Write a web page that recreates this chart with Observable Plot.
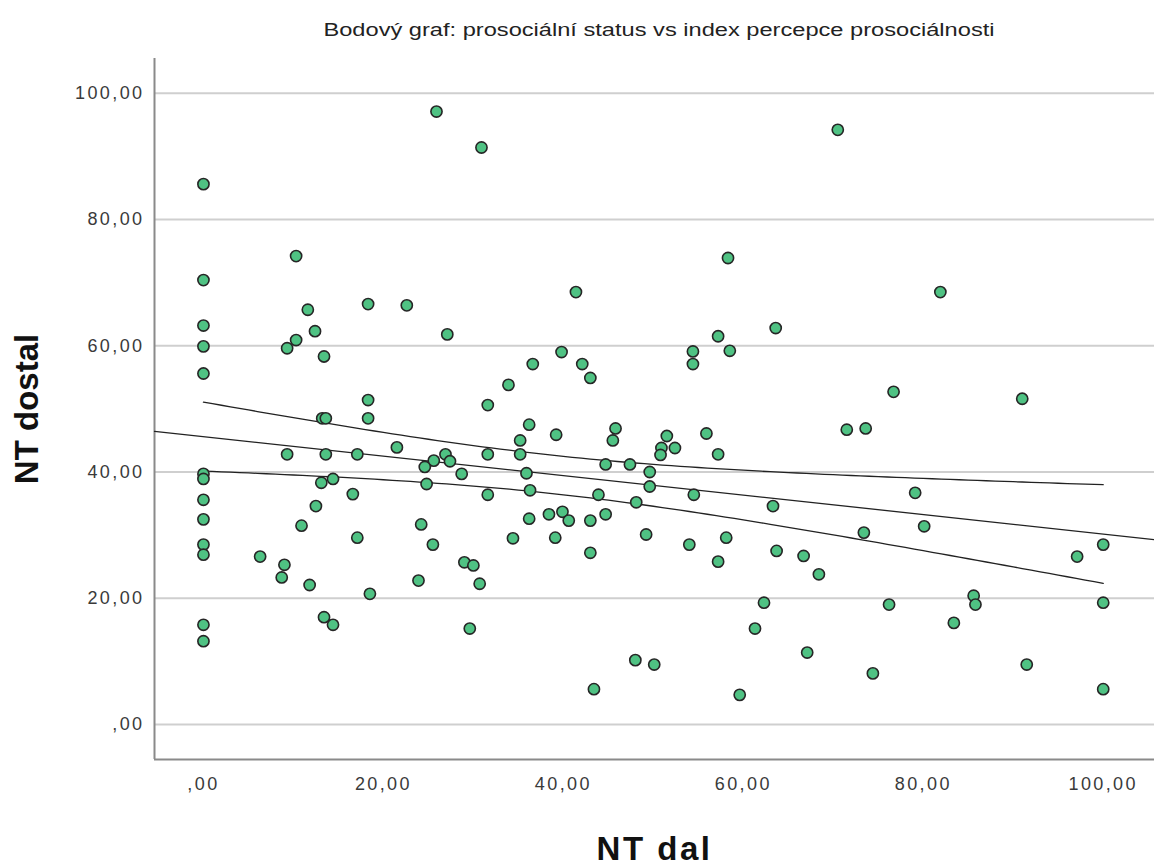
<!DOCTYPE html>
<html>
<head>
<meta charset="utf-8">
<script src="https://cdn.jsdelivr.net/npm/d3@7"></script>
<script src="https://cdn.jsdelivr.net/npm/@observablehq/plot@0.6"></script>
<style>
  html, body { margin: 0; padding: 0; background: #fff; }
  #wrap { position: relative; width: 1154px; height: 866px; }
  #chart svg { display: block; }
  #title { position: absolute; top: 19px; left: 659px; white-space: nowrap;
    font-family: 'Liberation Sans', Arial, sans-serif; font-size: 17.5px; line-height: 22px; color: #222;
    transform: translateX(-50%) scaleX(1.35); transform-origin: 50% 50%; }
  g[aria-label="y-axis tick label"] text, g[aria-label="x-axis tick label"] text { letter-spacing: 2.4px; }
  g[aria-label="y-axis label"] text, g[aria-label="x-axis label"] text { font-weight: bold; font-size: 33px; fill: #111; }
  g[aria-label="x-axis label"] text { letter-spacing: 2.5px; }
</style>
</head>
<body>
<div id="wrap">
  <div id="chart"></div>
  <div id="title"></div>
</div>
<script>
// NT dal (x) and NT dostal (y)
const ntDal = [
  25.9, 30.9, 0, 10.3, 0, 18.3, 22.6, 58.3, 41.4, 70.5, 81.9, 11.6, 0, 0, 12.4, 10.3, 9.3, 13.4, 27.1, 0,
  18.3, 18.3, 13.2, 13.6, 31.6, 21.5, 9.3, 13.6, 17.1, 26.9, 25.6, 27.4, 24.6, 28.7, 31.6, 0, 0, 13.1, 14.4, 24.8,
  31.6, 16.6, 0, 12.5, 0, 10.9, 24.2, 17.1, 25.5, 0, 0, 6.3, 9.0, 29.0, 8.7, 11.8, 18.5, 23.9, 30.0, 30.7,
  0, 0, 13.4, 14.4, 29.6, 63.6, 57.2, 58.5, 54.4, 54.4, 39.8, 36.6, 42.1, 43.0, 33.9, 36.2, 45.8, 45.5, 39.2, 35.2,
  51.5, 55.9, 50.9, 52.4, 50.8, 57.2, 35.2, 44.7, 47.4, 49.6, 35.9, 49.6, 36.3, 43.9, 54.5, 48.1, 63.3, 36.2, 38.4, 39.9,
  40.6, 43.0, 44.7, 34.4, 39.1, 49.2, 54.0, 58.1, 43.0, 63.7, 66.7, 57.2, 68.4, 62.3, 61.3, 67.1, 48.0, 50.1, 43.4, 59.6,
  76.7, 91.0, 71.5, 73.6, 79.1, 73.4, 80.1, 100, 97.1, 76.2, 85.6, 85.8, 83.4, 100, 74.4, 91.5, 100
];
const ntDostal = [
  97.1, 91.4, 85.6, 74.2, 70.4, 66.6, 66.4, 73.9, 68.5, 94.2, 68.5, 65.7, 63.2, 59.9, 62.3, 60.9, 59.6, 58.3, 61.8, 55.6,
  51.4, 48.5, 48.5, 48.5, 50.6, 43.9, 42.8, 42.8, 42.8, 42.8, 41.8, 41.7, 40.8, 39.7, 42.8, 39.7, 38.9, 38.3, 38.9, 38.1,
  36.4, 36.5, 35.6, 34.6, 32.5, 31.5, 31.7, 29.6, 28.5, 28.5, 26.9, 26.6, 25.3, 25.7, 23.3, 22.1, 20.7, 22.8, 25.2, 22.3,
  15.8, 13.2, 17.0, 15.8, 15.2, 62.8, 61.5, 59.2, 59.1, 57.1, 59.0, 57.1, 57.1, 54.9, 53.8, 47.5, 46.9, 45.0, 45.9, 45.0,
  45.7, 46.1, 43.8, 43.8, 42.7, 42.8, 42.8, 41.2, 41.2, 40.0, 39.8, 37.7, 37.1, 36.4, 36.4, 35.2, 34.6, 32.6, 33.3, 33.7,
  32.3, 32.3, 33.3, 29.5, 29.6, 30.1, 28.5, 29.6, 27.2, 27.5, 26.7, 25.8, 23.8, 19.3, 15.2, 11.4, 10.2, 9.5, 5.6, 4.7,
  52.7, 51.6, 46.7, 46.9, 36.7, 30.4, 31.4, 28.5, 26.6, 19.0, 20.4, 19.0, 16.1, 19.3, 8.1, 9.5, 5.6
];
const xTicks = [0, 20, 40, 60, 80, 100];
const yTicks = [0, 20, 40, 60, 80, 100];
const xDomain = [-5.44, 105.7];
const yDomain = [-5.54, 105.5];
const titleText = "Bodový graf: prosociální status vs index percepce prosociálnosti";
const xLabel = "NT dal";
const yLabel = "NT dostal";

const points = ntDal.map((x, i) => ({x, y: ntDostal[i]}));

// Least-squares fit and 95% confidence band of the mean
const n = points.length;
const mx = d3.mean(points, d => d.x), my = d3.mean(points, d => d.y);
const sxx = d3.sum(points, d => (d.x - mx) ** 2);
const sxy = d3.sum(points, d => (d.x - mx) * (d.y - my));
const slope = sxy / sxx, intercept = my - slope * mx;
const sse = d3.sum(points, d => (d.y - intercept - slope * d.x) ** 2);
const se = Math.sqrt(sse / (n - 2));
const tq = 1.977;
const [xmin, xmax] = d3.extent(points, d => d.x);
const fitLine = xDomain.map(x => ({x, y: intercept + slope * x}));
const band = d3.range(0, 101).map(i => {
  const x = xmin + (xmax - xmin) * i / 100;
  const yh = intercept + slope * x;
  const h = tq * se * Math.sqrt(1 / n + (x - mx) ** 2 / sxx);
  return {x, lo: yh - h, hi: yh + h};
});

const fmt = d => d === 0 ? ",00" : d.toFixed(2).replace(".", ",");

const chart = Plot.plot({
  width: 1154,
  height: 866,
  marginLeft: 154,
  marginRight: 0,
  marginTop: 58,
  marginBottom: 107,
  style: {fontFamily: "'Liberation Sans', Arial, sans-serif", background: "#fff", color: "#333"},
  x: {domain: xDomain},
  y: {domain: yDomain},
  marks: [
    Plot.gridY(yTicks, {stroke: "#cfcfcf", strokeWidth: 2, strokeOpacity: 1}),
    Plot.axisY(yTicks, {tickSize: 0, tickPadding: 10, tickFormat: fmt, fontSize: 18, fill: "#3a3a3a",
      label: yLabel, labelAnchor: "center", labelArrow: false, labelOffset: 140}),
    Plot.axisX(xTicks, {tickSize: 0, tickPadding: 18, tickFormat: fmt, fontSize: 18, fill: "#3a3a3a",
      label: xLabel, labelAnchor: "center", labelArrow: false, labelOffset: 100}),
    Plot.ruleX([xDomain[0]], {stroke: "#8a8a8a", strokeWidth: 2}),
    Plot.ruleY([yDomain[0]], {stroke: "#8a8a8a", strokeWidth: 2}),
    Plot.line(fitLine, {x: "x", y: "y", stroke: "#222", strokeWidth: 1.3}),
    Plot.line(band, {x: "x", y: "hi", stroke: "#222", strokeWidth: 1.3}),
    Plot.line(band, {x: "x", y: "lo", stroke: "#222", strokeWidth: 1.3}),
    Plot.dot(points, {x: "x", y: "y", r: 5.6, fill: "#4fc283", stroke: "#262626", strokeWidth: 1.6})
  ]
});
document.getElementById("chart").appendChild(chart);
document.getElementById("title").textContent = titleText;
</script>
</body>
</html>
